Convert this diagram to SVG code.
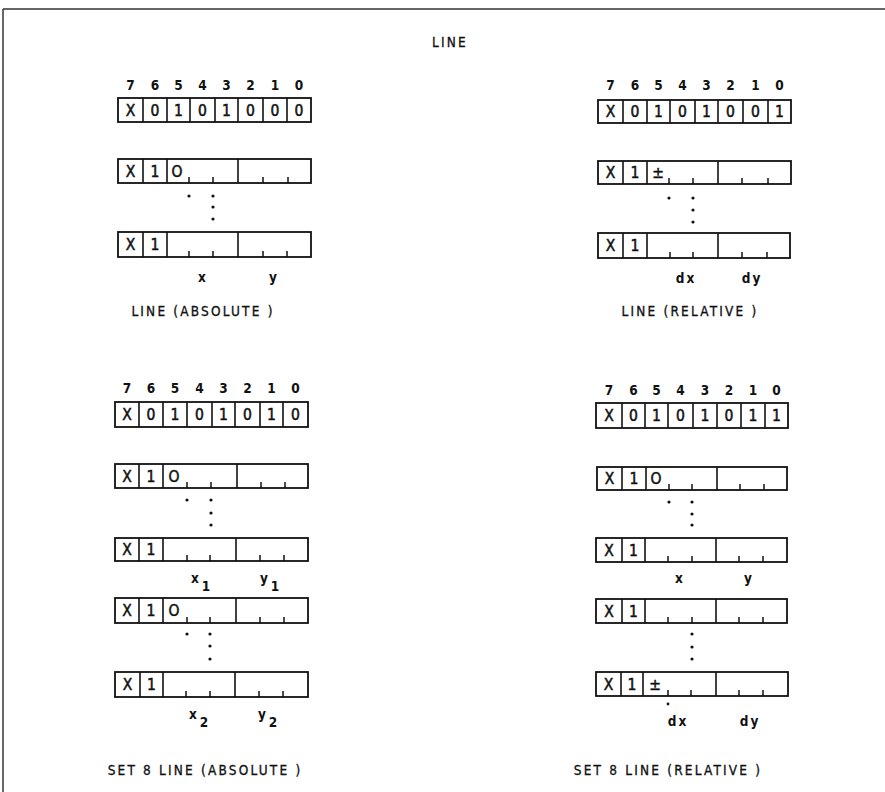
<svg xmlns="http://www.w3.org/2000/svg" width="885" height="792" viewBox="0 0 885 792">
<style>
.frame{fill:none;stroke:#333;stroke-width:1.5}
.box{fill:#fff;stroke:#111;stroke-width:1.8}
.div{stroke:#111;stroke-width:1.6}
.tick{stroke:#111;stroke-width:1.5}
.bit{font-family:"DejaVu Sans Condensed","DejaVu Sans",sans-serif;font-size:13.5px;font-weight:bold;fill:#111;text-anchor:middle}
.cell{font-family:"DejaVu Sans Condensed","DejaVu Sans",sans-serif;font-size:15.5px;fill:#111;stroke:#111;stroke-width:0.5;text-anchor:middle}
.lab{font-family:"DejaVu Sans Condensed","DejaVu Sans",sans-serif;font-size:13.5px;font-weight:bold;fill:#111;text-anchor:middle}
.cap{font-family:"DejaVu Sans Condensed","DejaVu Sans",sans-serif;font-size:13.5px;fill:#111;stroke:#111;stroke-width:0.3;text-anchor:middle;letter-spacing:2.2px}
.dot{fill:#111}
</style>
<rect width="885" height="792" fill="#fff"/>
<g id="frame">
<line class="frame" x1="3" y1="9" x2="885" y2="9"/>
<line class="frame" x1="3" y1="9" x2="3" y2="792"/>
<text class="cap" x="450" y="47" letter-spacing="1.5">LINE</text>
</g>

<!-- TOP LEFT: LINE (ABSOLUTE) -->
<g id="line-abs">
<g class="bits">
<text class="bit" x="130.5" y="90">7</text><text class="bit" x="155" y="90">6</text><text class="bit" x="178.5" y="90">5</text><text class="bit" x="202.5" y="90">4</text><text class="bit" x="226.5" y="90">3</text><text class="bit" x="250.5" y="90">2</text><text class="bit" x="275" y="90">1</text><text class="bit" x="299" y="90">0</text>
</g>
<g id="la-op">
<rect class="box" x="118" y="98" width="193" height="24"/>
<line class="div" x1="143" y1="98" x2="143" y2="122"/><line class="div" x1="167" y1="98" x2="167" y2="122"/><line class="div" x1="190" y1="98" x2="190" y2="122"/><line class="div" x1="215" y1="98" x2="215" y2="122"/><line class="div" x1="238" y1="98" x2="238" y2="122"/><line class="div" x1="263" y1="98" x2="263" y2="122"/><line class="div" x1="287" y1="98" x2="287" y2="122"/>
<text class="cell" x="130.5" y="116">X</text><text class="cell" x="155" y="116">0</text><text class="cell" x="178.5" y="116">1</text><text class="cell" x="202.5" y="116">0</text><text class="cell" x="226.5" y="116">1</text><text class="cell" x="250.5" y="116">0</text><text class="cell" x="275" y="116">0</text><text class="cell" x="299" y="116">0</text>
</g>
<g id="la-d1">
<rect class="box" x="118" y="159" width="193" height="24"/>
<line class="div" x1="143" y1="159" x2="143" y2="183"/><line class="div" x1="167" y1="159" x2="167" y2="183"/><line class="div" x1="238" y1="159" x2="238" y2="183"/>
<text class="cell" x="130.5" y="177">X</text><text class="cell" x="155" y="177">1</text><text class="cell" x="177" y="177">O</text>
<line class="tick" x1="189" y1="177" x2="189" y2="183"/><line class="tick" x1="213" y1="177" x2="213" y2="183"/><line class="tick" x1="263" y1="177" x2="263" y2="183"/><line class="tick" x1="288" y1="177" x2="288" y2="183"/>
</g>
<circle class="dot" cx="189" cy="196" r="1.6"/><circle class="dot" cx="213" cy="196" r="1.6"/><circle class="dot" cx="213" cy="207" r="1.6"/><circle class="dot" cx="213" cy="219" r="1.6"/>
<g id="la-d2">
<rect class="box" x="118" y="232" width="193" height="25"/>
<line class="div" x1="143" y1="232" x2="143" y2="257"/><line class="div" x1="167" y1="232" x2="167" y2="257"/><line class="div" x1="238" y1="232" x2="238" y2="257"/>
<text class="cell" x="130.5" y="250">X</text><text class="cell" x="155" y="250">1</text>
<line class="tick" x1="189" y1="251" x2="189" y2="257"/><line class="tick" x1="213" y1="251" x2="213" y2="257"/><line class="tick" x1="263" y1="251" x2="263" y2="257"/><line class="tick" x1="287" y1="251" x2="287" y2="257"/>
</g>
<text class="lab" x="202" y="282">x</text><text class="lab" x="273" y="282">y</text>
<text class="cap" x="203" y="316">LINE (ABSOLUTE )</text>
</g>

<!-- TOP RIGHT: LINE (RELATIVE) -->
<g id="line-rel">
<g class="bits">
<text class="bit" x="610.5" y="90">7</text><text class="bit" x="635" y="90">6</text><text class="bit" x="658.5" y="90">5</text><text class="bit" x="682.5" y="90">4</text><text class="bit" x="706.5" y="90">3</text><text class="bit" x="730.5" y="90">2</text><text class="bit" x="755.5" y="90">1</text><text class="bit" x="779.5" y="90">0</text>
</g>
<g id="lr-op">
<rect class="box" x="598" y="100" width="193" height="23"/>
<line class="div" x1="623" y1="100" x2="623" y2="123"/><line class="div" x1="647" y1="100" x2="647" y2="123"/><line class="div" x1="670" y1="100" x2="670" y2="123"/><line class="div" x1="695" y1="100" x2="695" y2="123"/><line class="div" x1="718" y1="100" x2="718" y2="123"/><line class="div" x1="743" y1="100" x2="743" y2="123"/><line class="div" x1="768" y1="100" x2="768" y2="123"/>
<text class="cell" x="610.5" y="117">X</text><text class="cell" x="635" y="117">0</text><text class="cell" x="658.5" y="117">1</text><text class="cell" x="682.5" y="117">0</text><text class="cell" x="706.5" y="117">1</text><text class="cell" x="730.5" y="117">0</text><text class="cell" x="755.5" y="117">0</text><text class="cell" x="779.5" y="117">1</text>
</g>
<g id="lr-d1">
<rect class="box" x="598" y="161" width="193" height="23"/>
<line class="div" x1="623" y1="161" x2="623" y2="184"/><line class="div" x1="647" y1="161" x2="647" y2="184"/><line class="div" x1="718" y1="161" x2="718" y2="184"/>
<text class="cell" x="610.5" y="178">X</text><text class="cell" x="635" y="178">1</text><text class="cell" x="658" y="178" font-size="13" stroke-width="0.2">±</text>
<line class="tick" x1="669" y1="178" x2="669" y2="184"/><line class="tick" x1="693" y1="178" x2="693" y2="184"/><line class="tick" x1="742" y1="178" x2="742" y2="184"/><line class="tick" x1="768" y1="178" x2="768" y2="184"/>
</g>
<circle class="dot" cx="669" cy="198" r="1.6"/><circle class="dot" cx="693" cy="198" r="1.6"/><circle class="dot" cx="693" cy="210" r="1.6"/><circle class="dot" cx="693" cy="222" r="1.6"/>
<g id="lr-d2">
<rect class="box" x="598" y="233" width="192" height="25"/>
<line class="div" x1="623" y1="233" x2="623" y2="258"/><line class="div" x1="647" y1="233" x2="647" y2="258"/><line class="div" x1="718" y1="233" x2="718" y2="258"/>
<text class="cell" x="610.5" y="251">X</text><text class="cell" x="635" y="251">1</text>
<line class="tick" x1="670" y1="252" x2="670" y2="258"/><line class="tick" x1="693" y1="252" x2="693" y2="258"/><line class="tick" x1="742" y1="252" x2="742" y2="258"/><line class="tick" x1="767" y1="252" x2="767" y2="258"/>
</g>
<text class="lab" x="686" y="283" letter-spacing="2">dx</text><text class="lab" x="752" y="283" letter-spacing="2">dy</text>
<text class="cap" x="690" y="316">LINE (RELATIVE )</text>
</g>

<!-- BOTTOM LEFT: SET & LINE (ABSOLUTE) -->
<g id="setline-abs">
<g class="bits">
<text class="bit" x="127" y="393">7</text><text class="bit" x="151" y="393">6</text><text class="bit" x="175" y="393">5</text><text class="bit" x="199.5" y="393">4</text><text class="bit" x="223.5" y="393">3</text><text class="bit" x="247.5" y="393">2</text><text class="bit" x="271.5" y="393">1</text><text class="bit" x="295.5" y="393">0</text>
</g>
<g id="sa-op">
<rect class="box" x="115" y="402" width="193" height="25"/>
<line class="div" x1="139" y1="402" x2="139" y2="427"/><line class="div" x1="163" y1="402" x2="163" y2="427"/><line class="div" x1="187" y1="402" x2="187" y2="427"/><line class="div" x1="212" y1="402" x2="212" y2="427"/><line class="div" x1="235" y1="402" x2="235" y2="427"/><line class="div" x1="260" y1="402" x2="260" y2="427"/><line class="div" x1="283" y1="402" x2="283" y2="427"/>
<text class="cell" x="127" y="420">X</text><text class="cell" x="151" y="420">0</text><text class="cell" x="175" y="420">1</text><text class="cell" x="199.5" y="420">0</text><text class="cell" x="223.5" y="420">1</text><text class="cell" x="247.5" y="420">0</text><text class="cell" x="271.5" y="420">1</text><text class="cell" x="295.5" y="420">0</text>
</g>
<g id="sa-d1">
<rect class="box" x="115" y="464" width="193" height="24"/>
<line class="div" x1="139" y1="464" x2="139" y2="488"/><line class="div" x1="163" y1="464" x2="163" y2="488"/><line class="div" x1="237" y1="464" x2="237" y2="488"/>
<text class="cell" x="127" y="482">X</text><text class="cell" x="151" y="482">1</text><text class="cell" x="174" y="482">O</text>
<line class="tick" x1="187" y1="482" x2="187" y2="488"/><line class="tick" x1="211" y1="482" x2="211" y2="488"/><line class="tick" x1="261" y1="482" x2="261" y2="488"/><line class="tick" x1="285" y1="482" x2="285" y2="488"/>
</g>
<circle class="dot" cx="187" cy="500" r="1.6"/><circle class="dot" cx="211" cy="500" r="1.6"/><circle class="dot" cx="211" cy="513" r="1.6"/><circle class="dot" cx="211" cy="525" r="1.6"/>
<g id="sa-d2">
<rect class="box" x="115" y="538" width="193" height="23"/>
<line class="div" x1="139" y1="538" x2="139" y2="561"/><line class="div" x1="163" y1="538" x2="163" y2="561"/><line class="div" x1="236" y1="538" x2="236" y2="561"/>
<text class="cell" x="127" y="555">X</text><text class="cell" x="151" y="555">1</text>
<line class="tick" x1="187" y1="555" x2="187" y2="561"/><line class="tick" x1="210" y1="555" x2="210" y2="561"/><line class="tick" x1="260" y1="555" x2="260" y2="561"/><line class="tick" x1="284" y1="555" x2="284" y2="561"/>
</g>
<text class="lab" x="195" y="583">x</text><text class="lab" x="206" y="591">1</text>
<text class="lab" x="264" y="583">y</text><text class="lab" x="275" y="591">1</text>
<g id="sa-d3">
<rect class="box" x="115" y="598" width="193" height="25"/>
<line class="div" x1="139" y1="598" x2="139" y2="623"/><line class="div" x1="163" y1="598" x2="163" y2="623"/><line class="div" x1="236" y1="598" x2="236" y2="623"/>
<text class="cell" x="127" y="616">X</text><text class="cell" x="151" y="616">1</text><text class="cell" x="174" y="616">O</text>
<line class="tick" x1="187" y1="617" x2="187" y2="623"/><line class="tick" x1="210" y1="617" x2="210" y2="623"/><line class="tick" x1="260" y1="617" x2="260" y2="623"/><line class="tick" x1="284" y1="617" x2="284" y2="623"/>
</g>
<circle class="dot" cx="187" cy="634" r="1.6"/><circle class="dot" cx="210" cy="634" r="1.6"/><circle class="dot" cx="210" cy="646" r="1.6"/><circle class="dot" cx="210" cy="659" r="1.6"/>
<g id="sa-d4">
<rect class="box" x="115" y="672" width="193" height="25"/>
<line class="div" x1="140" y1="672" x2="140" y2="697"/><line class="div" x1="163" y1="672" x2="163" y2="697"/><line class="div" x1="235" y1="672" x2="235" y2="697"/>
<text class="cell" x="127.5" y="690">X</text><text class="cell" x="151.5" y="690">1</text>
<line class="tick" x1="186" y1="691" x2="186" y2="697"/><line class="tick" x1="210" y1="691" x2="210" y2="697"/><line class="tick" x1="259" y1="691" x2="259" y2="697"/><line class="tick" x1="283" y1="691" x2="283" y2="697"/>
</g>
<text class="lab" x="193" y="719">x</text><text class="lab" x="204" y="727">2</text>
<text class="lab" x="262" y="719">y</text><text class="lab" x="273" y="727">2</text>
<text class="cap" x="205" y="775">SET 8 LINE (ABSOLUTE )</text>
</g>

<!-- BOTTOM RIGHT: SET & LINE (RELATIVE) -->
<g id="setline-rel">
<g class="bits">
<text class="bit" x="609" y="395">7</text><text class="bit" x="633.5" y="395">6</text><text class="bit" x="656.5" y="395">5</text><text class="bit" x="680.5" y="395">4</text><text class="bit" x="705" y="395">3</text><text class="bit" x="729" y="395">2</text><text class="bit" x="753" y="395">1</text><text class="bit" x="776.5" y="395">0</text>
</g>
<g id="sr-op">
<rect class="box" x="596" y="403" width="192" height="25"/>
<line class="div" x1="622" y1="403" x2="622" y2="428"/><line class="div" x1="645" y1="403" x2="645" y2="428"/><line class="div" x1="668" y1="403" x2="668" y2="428"/><line class="div" x1="693" y1="403" x2="693" y2="428"/><line class="div" x1="717" y1="403" x2="717" y2="428"/><line class="div" x1="741" y1="403" x2="741" y2="428"/><line class="div" x1="765" y1="403" x2="765" y2="428"/>
<text class="cell" x="609" y="421">X</text><text class="cell" x="633.5" y="421">0</text><text class="cell" x="656.5" y="421">1</text><text class="cell" x="680.5" y="421">0</text><text class="cell" x="705" y="421">1</text><text class="cell" x="729" y="421">0</text><text class="cell" x="753" y="421">1</text><text class="cell" x="776.5" y="421">1</text>
</g>
<g id="sr-d1">
<rect class="box" x="597" y="467" width="190" height="23"/>
<line class="div" x1="622" y1="467" x2="622" y2="490"/><line class="div" x1="646" y1="467" x2="646" y2="490"/><line class="div" x1="717" y1="467" x2="717" y2="490"/>
<text class="cell" x="609.5" y="484">X</text><text class="cell" x="634" y="484">1</text><text class="cell" x="656" y="484">O</text>
<line class="tick" x1="669" y1="484" x2="669" y2="490"/><line class="tick" x1="692" y1="484" x2="692" y2="490"/><line class="tick" x1="740" y1="484" x2="740" y2="490"/><line class="tick" x1="764" y1="484" x2="764" y2="490"/>
</g>
<circle class="dot" cx="669" cy="502" r="1.6"/><circle class="dot" cx="692" cy="502" r="1.6"/><circle class="dot" cx="692" cy="514" r="1.6"/><circle class="dot" cx="692" cy="525" r="1.6"/>
<g id="sr-d2">
<rect class="box" x="596" y="538" width="191" height="24"/>
<line class="div" x1="622" y1="538" x2="622" y2="562"/><line class="div" x1="645" y1="538" x2="645" y2="562"/><line class="div" x1="716" y1="538" x2="716" y2="562"/>
<text class="cell" x="609" y="556">X</text><text class="cell" x="633.5" y="556">1</text>
<line class="tick" x1="668" y1="556" x2="668" y2="562"/><line class="tick" x1="692" y1="556" x2="692" y2="562"/><line class="tick" x1="739" y1="556" x2="739" y2="562"/><line class="tick" x1="763" y1="556" x2="763" y2="562"/>
</g>
<text class="lab" x="679" y="583">x</text><text class="lab" x="748" y="583">y</text>
<g id="sr-d3">
<rect class="box" x="596" y="599" width="191" height="24"/>
<line class="div" x1="622" y1="599" x2="622" y2="623"/><line class="div" x1="645" y1="599" x2="645" y2="623"/><line class="div" x1="716" y1="599" x2="716" y2="623"/>
<text class="cell" x="609" y="617">X</text><text class="cell" x="633.5" y="617">1</text>
<line class="tick" x1="668" y1="617" x2="668" y2="623"/><line class="tick" x1="692" y1="617" x2="692" y2="623"/><line class="tick" x1="739" y1="617" x2="739" y2="623"/><line class="tick" x1="763" y1="617" x2="763" y2="623"/>
</g>
<circle class="dot" cx="692" cy="634" r="1.6"/><circle class="dot" cx="692" cy="647" r="1.6"/><circle class="dot" cx="692" cy="659" r="1.6"/>
<g id="sr-d4">
<rect class="box" x="596" y="672" width="192" height="24"/>
<line class="div" x1="621" y1="672" x2="621" y2="696"/><line class="div" x1="643" y1="672" x2="643" y2="696"/><line class="div" x1="716" y1="672" x2="716" y2="696"/>
<text class="cell" x="608.5" y="690">X</text><text class="cell" x="632" y="690">1</text><text class="cell" x="655" y="690" font-size="13" stroke-width="0.2">±</text>
<line class="tick" x1="668" y1="690" x2="668" y2="696"/><line class="tick" x1="691" y1="690" x2="691" y2="696"/><line class="tick" x1="739" y1="690" x2="739" y2="696"/><line class="tick" x1="763" y1="690" x2="763" y2="696"/>
</g>
<circle class="dot" cx="668" cy="704" r="1.4"/>
<text class="lab" x="678" y="726" letter-spacing="2">dx</text><text class="lab" x="750" y="726" letter-spacing="2">dy</text>
<text class="cap" x="668" y="775">SET 8 LINE (RELATIVE )</text>
</g>
</svg>
